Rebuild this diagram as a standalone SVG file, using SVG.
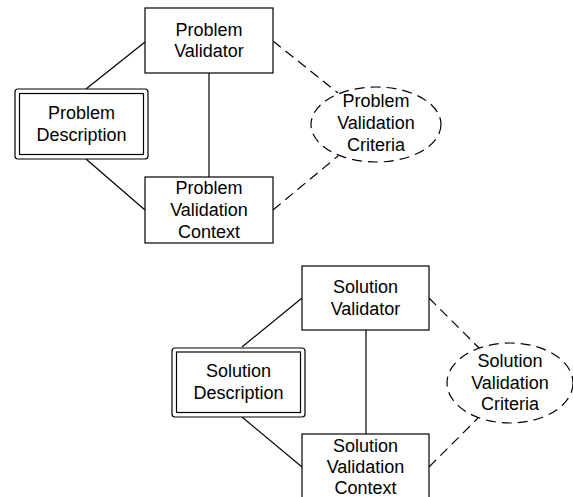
<svg xmlns="http://www.w3.org/2000/svg" width="573" height="497" viewBox="0 0 573 497">
<style>
.box{fill:#fff;stroke:#000;stroke-width:1.2}
.ell{fill:#fff;stroke:#000;stroke-width:1.2;stroke-dasharray:10 6}
.ln{stroke:#000;stroke-width:1.2;fill:none}
.dl{stroke:#000;stroke-width:1.2;fill:none;stroke-dasharray:10 6}
text{font-family:"Liberation Sans",Arial,Helvetica,sans-serif;font-size:18px;text-anchor:middle;fill:#000}
</style>
<rect width="573" height="497" fill="#fff"/>
<g id="connectors">
<line class="ln" x1="86" y1="89" x2="145" y2="42"/>
<line class="ln" x1="86" y1="159" x2="145" y2="210"/>
<line class="ln" x1="209" y1="73" x2="209" y2="177"/>
<line class="dl" x1="273" y1="41" x2="338" y2="93"/>
<line class="dl" x1="273" y1="210" x2="338" y2="156"/>
<line class="ln" x1="242" y1="347" x2="302" y2="298"/>
<line class="ln" x1="242" y1="417" x2="302" y2="467"/>
<line class="ln" x1="366" y1="330" x2="366" y2="434"/>
<line class="dl" x1="429" y1="298" x2="480" y2="349"/>
<line class="dl" x1="429" y1="467" x2="480" y2="416"/>
</g>
<g id="problem-validator">
<rect class="box" x="145" y="8" width="128" height="65"/>
<text x="209" y="36">Problem</text>
<text x="209" y="57">Validator</text>
</g>
<g id="problem-description">
<rect class="box" x="15" y="89" width="133" height="70" rx="3"/>
<rect class="box" x="19.5" y="93.5" width="124" height="61"/>
<text x="81.5" y="119">Problem</text>
<text x="81.5" y="140.5">Description</text>
</g>
<g id="problem-validation-context">
<rect class="box" x="145" y="177" width="128" height="66"/>
<text x="209" y="194">Problem</text>
<text x="209" y="215.5">Validation</text>
<text x="209" y="237.5">Context</text>
</g>
<g id="problem-validation-criteria">
<ellipse class="ell" cx="376" cy="124.5" rx="65" ry="37.5"/>
<text x="376" y="107">Problem</text>
<text x="376" y="129">Validation</text>
<text x="376" y="151">Criteria</text>
</g>
<g id="solution-validator">
<rect class="box" x="302" y="266" width="127" height="64"/>
<text x="365.5" y="293">Solution</text>
<text x="365.5" y="315">Validator</text>
</g>
<g id="solution-description">
<rect class="box" x="172" y="348" width="133" height="69" rx="3"/>
<rect class="box" x="176.5" y="352" width="124" height="60.5"/>
<text x="238.5" y="377">Solution</text>
<text x="238.5" y="398.5">Description</text>
</g>
<g id="solution-validation-context">
<rect class="box" x="302" y="434" width="127" height="66"/>
<text x="365.5" y="452">Solution</text>
<text x="365.5" y="473">Validation</text>
<text x="365.5" y="493.5">Context</text>
</g>
<g id="solution-validation-criteria">
<ellipse class="ell" cx="510" cy="383" rx="63" ry="40"/>
<text x="510" y="366.5">Solution</text>
<text x="510" y="388.5">Validation</text>
<text x="510" y="409.5">Criteria</text>
</g>
</svg>
